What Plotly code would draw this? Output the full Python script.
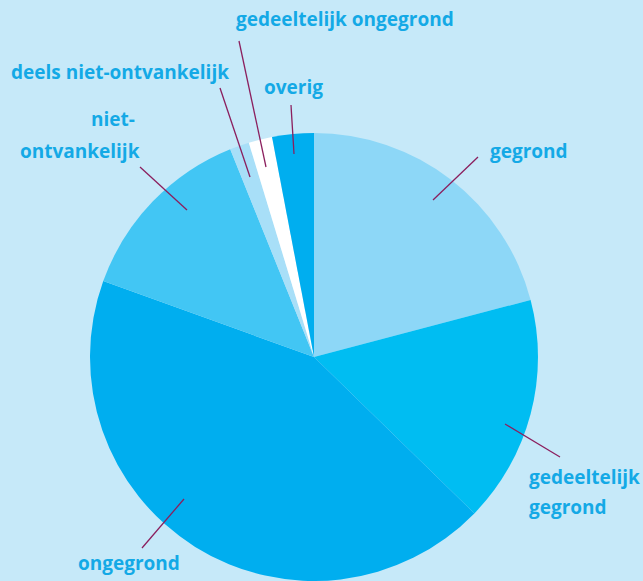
import plotly.graph_objects as go

labels = ["gegrond", "gedeeltelijk gegrond", "ongegrond", "niet-ontvankelijk",
          "deels niet-ontvankelijk", "gedeeltelijk ongegrond", "overig"]
values = [20.9, 16.4, 43.2, 13.4, 1.4, 1.7, 3.0]
colors = ["#8DD7F7", "#00BDF2", "#00AEEF", "#42C6F4", "#A8DFF8", "#FFFFFF", "#00AEEF"]

W, H = 643, 581
BG = "#C6E9F9"
TXT = "#14A9E6"
LINE = "#8B1F5E"

# pie placement (pixels): center (314, 357), radius 224
cx, cy, r = 314, 357, 224

fig = go.Figure(go.Pie(
    labels=labels, values=values, sort=False, direction="clockwise", rotation=0,
    marker=dict(colors=colors, line=dict(width=0)),
    textinfo="none", hoverinfo="label+percent",
    domain=dict(x=[(cx - r) / W, (cx + r) / W], y=[(H - cy - r) / H, (H - cy + r) / H]),
    showlegend=False,
))

def px(x):
    return x / W

def py(y):
    return 1 - y / H

# leader lines (pixel coords)
leaders = [
    ((478, 157), (433, 200)),
    ((505, 424), (560, 457)),
    ((184, 499), (142, 548)),
    ((140, 167), (187, 210)),
    ((220, 88), (250, 177)),
    ((239, 41), (266, 167)),
    ((291, 105), (294, 154)),
]
shapes = []
for (x0, y0), (x1, y1) in leaders:
    shapes.append(dict(type="line", xref="paper", yref="paper",
                       x0=px(x0), y0=py(y0), x1=px(x1), y1=py(y1),
                       line=dict(color=LINE, width=1.3)))

# text labels: (text, x, y, xanchor)
texts = [
    ("gedeeltelijk ongegrond", 234, 19, "left"),
    ("deels niet-ontvankelijk", 9, 72, "left"),
    ("overig", 262, 87, "left"),
    ("niet-", 137, 119, "right"),
    ("ontvankelijk", 142, 151, "right"),
    ("gegrond", 488, 151, "left"),
    ("gedeeltelijk", 527, 477, "left"),
    ("gegrond", 527, 507, "left"),
    ("ongegrond", 76, 563, "left"),
]
annotations = []
for t, x, y, xa in texts:
    annotations.append(dict(text=t, xref="paper", yref="paper", x=px(x), y=py(y),
                            xanchor=xa, yanchor="middle", showarrow=False,
                            font=dict(family="Open Sans", size=19, color=TXT, weight="bold")))

fig.update_layout(
    width=W, height=H, margin=dict(l=0, r=0, t=0, b=0),
    paper_bgcolor=BG, plot_bgcolor=BG,
    shapes=shapes, annotations=annotations,
)
fig.write_html("out.html")
